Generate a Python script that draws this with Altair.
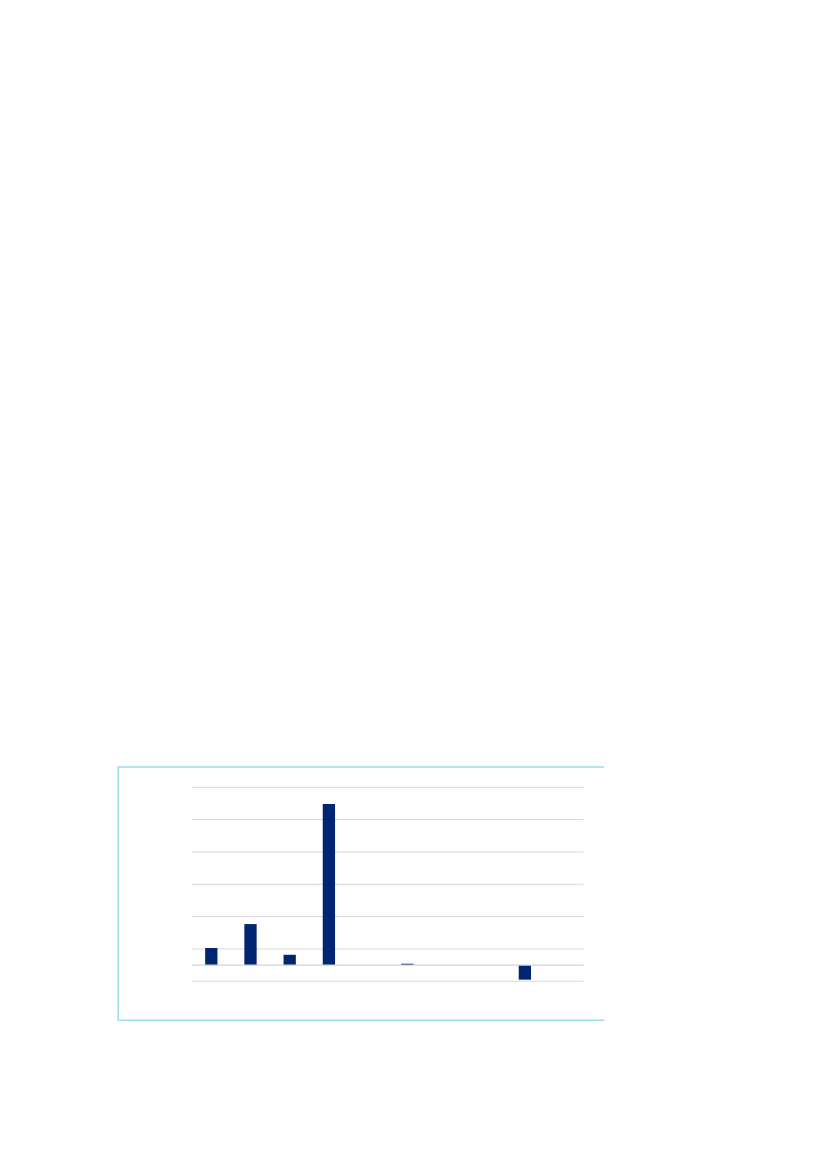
import altair as alt
import pandas as pd

categories = ["A", "B", "C", "D", "E", "F", "G", "H", "I", "J"]
values = [5.3, 12.7, 3.2, 49.8, 0.0, 0.4, 0.0, 0.0, -4.5, 0.0]
grid_values = [-5, 5, 15, 25, 35, 45, 55]

df = pd.DataFrame({"cat": categories, "val": values})

W, H = 392, 194

xenc = alt.X("cat:N", sort=categories,
             scale=alt.Scale(paddingInner=0.686, paddingOuter=0.343),
             axis=None)
yscale = alt.Scale(domain=[-5, 55], nice=False, zero=False)

border = alt.Chart(pd.DataFrame({"d": [0]})).mark_rect(
    fill=None, stroke="#9fdcf2", strokeWidth=1.5
).encode(
    x=alt.value(-73.5), x2=alt.value(413.5), y=alt.value(-20.3), y2=alt.value(233)
)

grid = alt.Chart(pd.DataFrame({"g": grid_values})).mark_rule(
    color="#d9d9d9", strokeWidth=1
).encode(y=alt.Y("g:Q", scale=yscale, axis=None), x=alt.value(0), x2=alt.value(W))

bars = alt.Chart(df).mark_bar(color="#002672").encode(
    x=xenc,
    y=alt.Y("val:Q", scale=yscale, axis=None),
)

zero = alt.Chart(pd.DataFrame({"z": [0]})).mark_rule(
    color="#d4d4d4", strokeWidth=1.2
).encode(y=alt.Y("z:Q", scale=yscale, axis=None), x=alt.value(0), x2=alt.value(W))

chart = alt.layer(border, grid, bars, zero).properties(
    width=W, height=H,
    padding={"left": 183.7, "top": 779.3, "right": 20, "bottom": 60},
    autosize=alt.AutoSizeParams(type="none"),
).configure_view(stroke=None)

chart.save("out.html", embed_options={"renderer": "svg", "actions": False})
